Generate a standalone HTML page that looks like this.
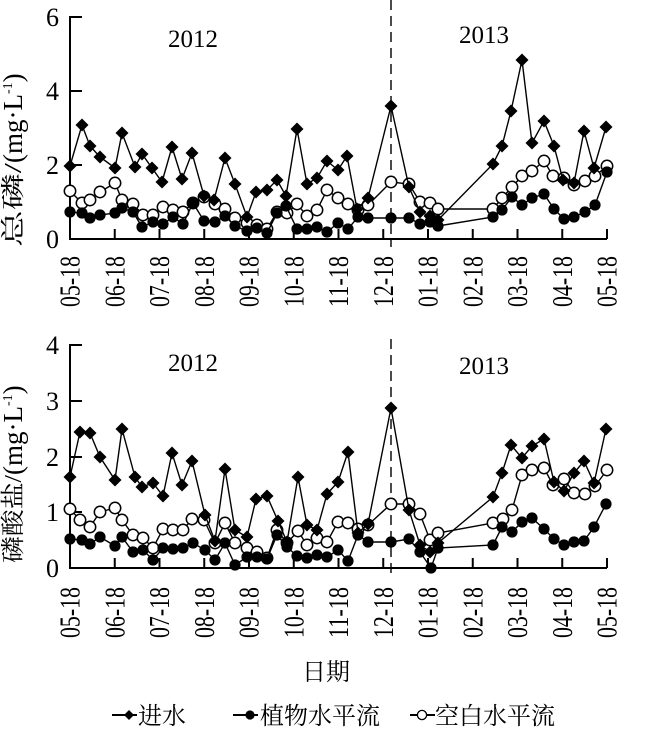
<!DOCTYPE html>
<html><head><meta charset="utf-8"><style>
html,body{margin:0;padding:0;background:#fff;}
svg{display:block;}
text{font-family:"Liberation Serif","Noto Serif CJK SC",serif;fill:#000;}
</style></head><body>
<svg width="655" height="734" viewBox="0 0 655 734" xmlns="http://www.w3.org/2000/svg">
<defs>
<marker id="dia" markerWidth="16" markerHeight="16" refX="8" refY="8" markerUnits="userSpaceOnUse"><path d="M8,1.5 L14.5,8 L8,14.5 L1.5,8Z" fill="#000"/></marker>
<marker id="fc" markerWidth="16" markerHeight="16" refX="8" refY="8" markerUnits="userSpaceOnUse"><circle cx="8" cy="8" r="5.6" fill="#000"/></marker>
<marker id="oc" markerWidth="16" markerHeight="16" refX="8" refY="8" markerUnits="userSpaceOnUse"><circle cx="8" cy="8" r="5.7" fill="#fff" stroke="#000" stroke-width="1.5"/></marker>
<marker id="diaS" markerWidth="12" markerHeight="12" refX="6" refY="6" markerUnits="userSpaceOnUse"><path d="M6,1 L11,6 L6,11 L1,6Z" fill="#000"/></marker>
<marker id="fcS" markerWidth="12" markerHeight="12" refX="6" refY="6" markerUnits="userSpaceOnUse"><circle cx="6" cy="6" r="4.6" fill="#000"/></marker>
<marker id="ocS" markerWidth="12" markerHeight="12" refX="6" refY="6" markerUnits="userSpaceOnUse"><circle cx="6" cy="6" r="4.6" fill="#fff" stroke="#000" stroke-width="1.3"/></marker>
</defs>

<!-- ============ TOP CHART ============ -->
<g stroke="#000" stroke-width="2" fill="none">
<polyline points="82,17 70,17 70,239 607,239"/>
<line x1="70" y1="91" x2="82" y2="91"/>
<line x1="70" y1="165" x2="82" y2="165"/>
<line x1="114.75" y1="239" x2="114.75" y2="229"/>
<line x1="159.5" y1="239" x2="159.5" y2="229"/>
<line x1="204.25" y1="239" x2="204.25" y2="229"/>
<line x1="249" y1="239" x2="249" y2="229"/>
<line x1="293.75" y1="239" x2="293.75" y2="229"/>
<line x1="338.5" y1="239" x2="338.5" y2="229"/>
<line x1="383.25" y1="239" x2="383.25" y2="229"/>
<line x1="428" y1="239" x2="428" y2="229"/>
<line x1="472.75" y1="239" x2="472.75" y2="229"/>
<line x1="517.5" y1="239" x2="517.5" y2="229"/>
<line x1="562.25" y1="239" x2="562.25" y2="229"/>
<line x1="607" y1="239" x2="607" y2="229"/>
</g>
<line x1="391" y1="0" x2="391" y2="247" stroke="#000" stroke-width="1.4" stroke-dasharray="10,6"/>

<g font-size="26" text-anchor="end">
<text x="59" y="26">6</text>
<text x="59" y="100">4</text>
<text x="59" y="174">2</text>
<text x="59" y="248">0</text>
</g>
<text font-size="25" x="193" y="47" text-anchor="middle">2012</text>
<text font-size="25" x="484" y="43" text-anchor="middle">2013</text>

<text font-size="24" transform="translate(21,247) rotate(-90)" textLength="84" lengthAdjust="spacingAndGlyphs">总磷/</text>
<text font-size="27" transform="translate(22,163) rotate(-90)">(mg·L<tspan font-size="14" dy="-10">-1</tspan><tspan dy="10">)</tspan></text>

<g font-size="29">
<text transform="translate(79.5,307) rotate(-90)" textLength="51" lengthAdjust="spacingAndGlyphs">05-18</text>
<text transform="translate(124.25,307) rotate(-90)" textLength="51" lengthAdjust="spacingAndGlyphs">06-18</text>
<text transform="translate(169,307) rotate(-90)" textLength="51" lengthAdjust="spacingAndGlyphs">07-18</text>
<text transform="translate(213.75,307) rotate(-90)" textLength="51" lengthAdjust="spacingAndGlyphs">08-18</text>
<text transform="translate(258.5,307) rotate(-90)" textLength="51" lengthAdjust="spacingAndGlyphs">09-18</text>
<text transform="translate(303.25,307) rotate(-90)" textLength="51" lengthAdjust="spacingAndGlyphs">10-18</text>
<text transform="translate(348,307) rotate(-90)" textLength="51" lengthAdjust="spacingAndGlyphs">11-18</text>
<text transform="translate(392.75,307) rotate(-90)" textLength="51" lengthAdjust="spacingAndGlyphs">12-18</text>
<text transform="translate(437.5,307) rotate(-90)" textLength="51" lengthAdjust="spacingAndGlyphs">01-18</text>
<text transform="translate(482.25,307) rotate(-90)" textLength="51" lengthAdjust="spacingAndGlyphs">02-18</text>
<text transform="translate(527,307) rotate(-90)" textLength="51" lengthAdjust="spacingAndGlyphs">03-18</text>
<text transform="translate(571.75,307) rotate(-90)" textLength="51" lengthAdjust="spacingAndGlyphs">04-18</text>
<text transform="translate(616.5,307) rotate(-90)" textLength="51" lengthAdjust="spacingAndGlyphs">05-18</text>
</g>

<g fill="none" stroke="#000" stroke-width="1.4">
<polyline marker-start="url(#oc)" marker-mid="url(#oc)" marker-end="url(#oc)" points="70,191 82,203 90,200 100,192 115,183 122,200 133,204 143,215 153,215 163,207 173,210 183,212 193,203 204,197 215,204 225,209 235,218 247,223 257,225 267,229 277,212 287,213 297,204 307,216 317,210 327,190 338,198 348,204 358,210 368,205 391,182 409,184 420,202 430,203 438,209 493,209 502,198 512,187 522,176 532,171 544,161 553,176 564,178 574,185 585,181 595,176 607,166"/>
<polyline marker-start="url(#fc)" marker-mid="url(#fc)" marker-end="url(#fc)" points="70,212 82,213 90,218 100,215 115,213 122,208 133,212 142,227 153,222 163,224 173,217 183,224 193,203 204,221 215,222 225,216 235,226 247,231 257,228 267,233 277,213 286,206 297,229 307,229 317,227 327,232 338,223 348,229 358,217 368,218 391,218 409,218 420,224 430,222 438,226 493,217 502,210 512,197 522,205 532,198 544,194 554,209 564,219 574,217 585,212 595,205 607,172"/>
<polyline marker-start="url(#dia)" marker-mid="url(#dia)" marker-end="url(#dia)" points="70,166 82,125 90,146 100,157 115,168 122,133 135,167 142,154 152,168 162,182 172,147 182,179 192,153 204,196 214,200 225,158 235,184 247,217 256,192 267,190 277,180 286,196 297,129 307,184 317,178 327,161 338,170 347,156 357,209 368,198 391,106 409,187 420,212 430,216 438,220 493,164 502,146 511,111 522,60 532,143 544,121 554,146 563,180 574,183 584,131 594,168 606,127"/>
</g>

<!-- ============ BOTTOM CHART ============ -->
<g stroke="#000" stroke-width="2" fill="none">
<polyline points="82,345 70,345 70,568 607,568"/>
<line x1="70" y1="401" x2="82" y2="401"/>
<line x1="70" y1="457" x2="82" y2="457"/>
<line x1="70" y1="512" x2="82" y2="512"/>
<line x1="114.75" y1="568" x2="114.75" y2="558"/>
<line x1="159.5" y1="568" x2="159.5" y2="558"/>
<line x1="204.25" y1="568" x2="204.25" y2="558"/>
<line x1="249" y1="568" x2="249" y2="558"/>
<line x1="293.75" y1="568" x2="293.75" y2="558"/>
<line x1="338.5" y1="568" x2="338.5" y2="558"/>
<line x1="383.25" y1="568" x2="383.25" y2="558"/>
<line x1="428" y1="568" x2="428" y2="558"/>
<line x1="472.75" y1="568" x2="472.75" y2="558"/>
<line x1="517.5" y1="568" x2="517.5" y2="558"/>
<line x1="562.25" y1="568" x2="562.25" y2="558"/>
<line x1="607" y1="568" x2="607" y2="558"/>
</g>
<line x1="391" y1="339" x2="391" y2="574" stroke="#000" stroke-width="1.4" stroke-dasharray="10,6"/>

<g font-size="26" text-anchor="end">
<text x="59" y="354">4</text>
<text x="59" y="410">3</text>
<text x="59" y="466">2</text>
<text x="59" y="521">1</text>
<text x="59" y="577">0</text>
</g>
<text font-size="25" x="193" y="371" text-anchor="middle">2012</text>
<text font-size="25" x="484" y="374" text-anchor="middle">2013</text>

<text font-size="24" transform="translate(21,563) rotate(-90)" textLength="88" lengthAdjust="spacingAndGlyphs">磷酸盐/</text>
<text font-size="27" transform="translate(22,475) rotate(-90)">(mg·L<tspan font-size="14" dy="-10">-1</tspan><tspan dy="10">)</tspan></text>

<g font-size="29">
<text transform="translate(79.5,638) rotate(-90)" textLength="51" lengthAdjust="spacingAndGlyphs">05-18</text>
<text transform="translate(124.25,638) rotate(-90)" textLength="51" lengthAdjust="spacingAndGlyphs">06-18</text>
<text transform="translate(169,638) rotate(-90)" textLength="51" lengthAdjust="spacingAndGlyphs">07-18</text>
<text transform="translate(213.75,638) rotate(-90)" textLength="51" lengthAdjust="spacingAndGlyphs">08-18</text>
<text transform="translate(258.5,638) rotate(-90)" textLength="51" lengthAdjust="spacingAndGlyphs">09-18</text>
<text transform="translate(303.25,638) rotate(-90)" textLength="51" lengthAdjust="spacingAndGlyphs">10-18</text>
<text transform="translate(348,638) rotate(-90)" textLength="51" lengthAdjust="spacingAndGlyphs">11-18</text>
<text transform="translate(392.75,638) rotate(-90)" textLength="51" lengthAdjust="spacingAndGlyphs">12-18</text>
<text transform="translate(437.5,638) rotate(-90)" textLength="51" lengthAdjust="spacingAndGlyphs">01-18</text>
<text transform="translate(482.25,638) rotate(-90)" textLength="51" lengthAdjust="spacingAndGlyphs">02-18</text>
<text transform="translate(527,638) rotate(-90)" textLength="51" lengthAdjust="spacingAndGlyphs">03-18</text>
<text transform="translate(571.75,638) rotate(-90)" textLength="51" lengthAdjust="spacingAndGlyphs">04-18</text>
<text transform="translate(616.5,638) rotate(-90)" textLength="51" lengthAdjust="spacingAndGlyphs">05-18</text>
</g>

<g fill="none" stroke="#000" stroke-width="1.4">
<polyline marker-start="url(#oc)" marker-mid="url(#oc)" marker-end="url(#oc)" points="70,509 80,520 90,527 100,512 115,508 122,520 133,535 143,538 153,548 163,529 173,530 183,530 192,519 204,520 215,543 225,523 235,543 247,548 257,552 267,558 277,530 287,543 298,531 307,545 317,538 327,542 338,522 348,523 358,529 368,525 391,504 409,504 420,514 430,540 438,533 493,523 503,519 512,510 522,475 532,470 544,468 553,485 564,479 574,493 585,494 595,486 607,470"/>
<polyline marker-start="url(#fc)" marker-mid="url(#fc)" marker-end="url(#fc)" points="70,539 82,540 90,544 100,537 115,546 122,537 133,552 143,550 153,560 163,548 173,549 183,548 193,543 205,550 215,560 225,543 235,565 247,557 257,557 267,559 277,535 287,547 297,556 307,558 317,555 327,557 338,550 348,561 358,535 368,542 391,542 409,539 420,552 431,568 438,548 493,545 502,527 512,532 522,522 532,518 544,529 554,539 564,545 574,542 584,541 594,527 606,504"/>
<polyline marker-start="url(#dia)" marker-mid="url(#dia)" marker-end="url(#dia)" points="70,477 80,432 90,433 100,457 115,480 122,429 135,477 142,487 153,483 163,496 172,453 182,485 192,461 205,515 215,541 225,469 235,530 247,537 256,499 267,496 278,521 287,542 298,477 307,525 317,530 327,494 338,482 348,452 358,533 368,524 391,408 409,510 420,545 430,552 438,543 493,497 502,473 511,445 522,458 532,446 544,439 554,482 564,491 574,473 584,461 594,483 606,429"/>
</g>

<!-- x axis title -->
<text font-size="24" x="326" y="680" text-anchor="middle">日期</text>

<!-- legend -->
<g stroke="#000" stroke-width="2" fill="none">
<polyline marker-mid="url(#diaS)" points="112,715 129,715 137,715"/>
<polyline marker-mid="url(#fcS)" points="233,715 250,715 258,715"/>
<polyline marker-mid="url(#ocS)" points="410,715 422,715 435,715"/>
</g>
<g font-size="24">
<text x="138" y="724">进水</text>
<text x="260" y="724">植物水平流</text>
<text x="435" y="724">空白水平流</text>
</g>
</svg>
</body></html>
